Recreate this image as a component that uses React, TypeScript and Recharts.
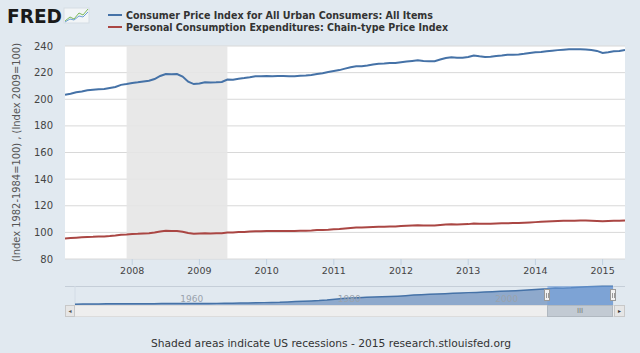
import {
  Area,
  AreaChart,
  CartesianGrid,
  Line,
  LineChart,
  ReferenceArea,
  ReferenceLine,
  XAxis,
  YAxis,
} from "recharts";

// monthly observations, Jan 2007 .. May 2015
const startYear = 2007;
const cpi = [
  203.4, 204.2, 205.3, 205.9, 206.8, 207.2, 207.6, 207.7, 208.5, 209.2, 210.8, 211.4,
  212.2, 212.7, 213.4, 213.9, 215.2, 217.5, 219.0, 218.7, 218.9, 217.0, 213.2, 211.4,
  211.9, 212.7, 212.5, 212.7, 213.0, 214.8, 214.7, 215.4, 215.9, 216.5, 217.2, 217.3,
  217.5, 217.3, 217.4, 217.4, 217.3, 217.2, 217.6, 217.9, 218.3, 219.0, 219.6, 220.5,
  221.2, 221.9, 223.0, 224.1, 224.8, 224.8, 225.4, 226.1, 226.6, 226.8, 227.2, 227.2,
  227.8, 228.3, 228.8, 229.2, 228.7, 228.5, 228.6, 229.9, 231.0, 231.6, 231.2, 231.2,
  231.7, 232.9, 232.3, 231.8, 231.9, 232.4, 232.9, 233.5, 233.5, 233.7, 234.1, 234.7,
  235.3, 235.5, 236.0, 236.5, 236.9, 237.2, 237.5, 237.5, 237.5, 237.4, 237.0, 236.3,
  234.7, 235.3, 236.0, 236.2, 237.0,
];
const pce = [
  95.4, 95.7, 96.0, 96.3, 96.6, 96.7, 96.9, 96.9, 97.2, 97.6, 98.2, 98.4,
  98.7, 98.9, 99.2, 99.4, 99.9, 100.6, 101.2, 101.1, 101.1, 100.5, 99.5, 98.9,
  99.1, 99.3, 99.2, 99.3, 99.4, 99.9, 99.9, 100.2, 100.3, 100.6, 100.8, 100.9,
  101.0, 101.0, 101.1, 101.1, 101.1, 101.1, 101.2, 101.3, 101.4, 101.7, 101.8, 102.0,
  102.3, 102.6, 103.0, 103.3, 103.6, 103.7, 103.9, 104.1, 104.2, 104.3, 104.4, 104.5,
  104.8, 105.0, 105.2, 105.3, 105.2, 105.1, 105.2, 105.6, 105.9, 106.1, 106.0, 106.1,
  106.2, 106.6, 106.5, 106.4, 106.4, 106.6, 106.8, 106.9, 107.0, 107.1, 107.3, 107.5,
  107.7, 107.9, 108.1, 108.3, 108.5, 108.7, 108.8, 108.8, 108.9, 108.9, 108.8, 108.6,
  108.3, 108.5, 108.7, 108.8, 109.0,
];
const yearTicks = [2008, 2009, 2010, 2011, 2012, 2013, 2014, 2015];
const yTicks = [80, 100, 120, 140, 160, 180, 200, 220, 240];
const recession = [2007 + 11 / 12, 2009 + 5 / 12]; // Dec 2007 - Jun 2009

// navigator: annual CPI, 1947 .. 2015
const navStart = 1947;
const navCpi = [
  22.3, 24.0, 23.8, 24.1, 26.0, 26.5, 26.7, 26.9, 26.8, 27.2, 28.1, 28.9, 29.1,
  29.6, 29.9, 30.2, 30.6, 31.0, 31.5, 32.4, 33.4, 34.8, 36.7, 38.8, 40.5, 41.8,
  44.4, 49.3, 53.8, 56.9, 60.6, 65.2, 72.6, 82.4, 90.9, 96.5, 99.6, 103.9, 107.6,
  109.6, 113.6, 118.3, 124.0, 130.7, 136.2, 140.3, 144.5, 148.2, 152.4, 156.9,
  160.5, 163.0, 166.6, 172.2, 177.1, 179.9, 184.0, 188.9, 195.3, 201.6, 207.3,
  215.3, 214.5, 218.1, 224.9, 229.6, 233.0, 236.7, 237.0,
];
const navTicks = [1960, 1980, 2000];

const legend = [
  { name: "Consumer Price Index for All Urban Consumers: All Items", color: "#4572a7", w: 307 },
  { name: "Personal Consumption Expenditures: Chain-type Price Index", color: "#aa4643", w: 322 },
];

const lastT = startYear + (cpi.length - 1) / 12;
const data = cpi.map((v, i) => ({ t: startYear + i / 12, cpi: v, pce: pce[i] }));
const navData = navCpi.map((v, i) => ({
  t: i === navCpi.length - 1 ? lastT : navStart + i,
  v,
}));

const font = "DejaVu Sans, Verdana, sans-serif";
const bg = "#e1e9f0";

function navLabel(text: string) {
  return (props: any) => {
    const vb = props.viewBox;
    return (
      <text x={vb.x + 3} y={vb.y + vb.height - 4} fill="#9aa3ad" fontSize={9} fontFamily={font}>
        {text}
      </text>
    );
  };
}

function YLabel(props: any) {
  const vb = props.viewBox;
  const cy = vb.y + vb.height / 2;
  return (
    <text
      x={16}
      y={cy}
      transform={`rotate(-90 16 ${cy})`}
      textAnchor="middle"
      dominantBaseline="central"
      fill="#555"
      fontSize={10}
      fontFamily={font}
      textLength={219}
      lengthAdjust="spacingAndGlyphs"
    >
      (Index 1982-1984=100) , (Index 2009=100)
    </text>
  );
}

export default function App() {
  return (
    <div style={{ position: "absolute", left: 0, top: 0, width: 640, height: 353, background: bg, overflow: "hidden" }}>
      <svg width={640} height={40} style={{ position: "absolute", left: 0, top: 0 }}>
        <text
          x={7}
          y={23}
          fontFamily="DejaVu Sans Condensed, DejaVu Sans"
          fontWeight="bold"
          fontSize={20}
          fill="#1a1a1a"
          textLength={55}
          lengthAdjust="spacingAndGlyphs"
        >
          FRED
        </text>
        <rect x={64} y={8} width={25} height={15} fill="#f2f5f7" stroke="#d5dde4" />
        <polyline points="65,21 70,17 74,19 79,13 83,15 88,9" fill="none" stroke="#7cba5a" strokeWidth={1} />
        <polyline points="65,22 70,19 74,20 79,16 83,17 88,12" fill="none" stroke="#6c9fd4" strokeWidth={1} />
        {legend.map((l, i) => (
          <g key={l.name}>
            <line x1={108} x2={122} y1={15 + i * 12} y2={15 + i * 12} stroke={l.color} strokeWidth={2} />
            <text
              x={126}
              y={18.5 + i * 12}
              fontFamily="DejaVu Sans Condensed, DejaVu Sans"
              fontWeight="bold"
              fontSize={10.5}
              fill="#333"
              textLength={l.w}
              lengthAdjust="spacingAndGlyphs"
            >
              {l.name}
            </text>
          </g>
        ))}
      </svg>

      <div style={{ position: "absolute", left: 0, top: 0 }}>
        <LineChart width={640} height={290} data={data} margin={{ top: 46, right: 15, left: 0, bottom: 0 }}>
          <CartesianGrid vertical={false} stroke="#d8d8d8" fill="#ffffff" fillOpacity={1} />
          <ReferenceArea x1={recession[0]} x2={recession[1]} fill="#e6e6e6" fillOpacity={0.9} stroke="none" />
          <XAxis
            dataKey="t"
            type="number"
            domain={[startYear, lastT]}
            ticks={yearTicks}
            allowDataOverflow
            height={31}
            axisLine={false}
            tickLine={{ stroke: "#c0d0e0" }}
            tickSize={6}
            tickMargin={2}
            tick={{ fill: "#444", fontSize: 9.5, fontFamily: font }}
          />
          <YAxis
            domain={[80, 240]}
            ticks={yTicks}
            width={65}
            axisLine={false}
            tickLine={false}
            tickSize={0}
            tickMargin={12}
            tick={{ fill: "#444", fontSize: 10, fontFamily: font }}
            label={<YLabel />}
          />
          <Line type="linear" dataKey="cpi" stroke="#4572a7" strokeWidth={2} dot={false} isAnimationActive={false} />
          <Line type="linear" dataKey="pce" stroke="#aa4643" strokeWidth={2} dot={false} isAnimationActive={false} />
        </LineChart>
      </div>

      {/* navigator */}
      <div style={{ position: "absolute", left: 65, top: 286, width: 560, height: 1, background: "#c5ced8" }} />
      <div style={{ position: "absolute", left: 0, top: 284 }}>
        <AreaChart width={640} height={22} data={navData} margin={{ top: 2, right: 27, left: 75, bottom: 0 }}>
          <CartesianGrid horizontal={false} stroke="#d3dce6" />
          <XAxis
            dataKey="t"
            type="number"
            domain={[navStart, lastT]}
            ticks={navTicks}
            height={0}
            axisLine={false}
            tickLine={false}
            tick={false}
          />
          <YAxis hide domain={[0, 240]} />
          <Area
            type="linear"
            dataKey="v"
            stroke="#4572a7"
            strokeWidth={1.5}
            fill="#8ea9cc"
            fillOpacity={1}
            isAnimationActive={false}
          />
          {navTicks.map((y) => (
            <ReferenceLine key={y} x={y} stroke="none" label={navLabel(String(y))} />
          ))}
          <ReferenceArea x1={startYear} x2={lastT} fill="#6f9fdc" fillOpacity={0.55} stroke="none" />
        </AreaChart>
      </div>
      {/* handles */}
      {[544, 610].map((x) => (
        <div
          key={x}
          style={{
            position: "absolute",
            left: x,
            top: 289,
            width: 6,
            height: 12,
            background: "#f2f2f2",
            border: "1px solid #999",
            boxSizing: "border-box",
          }}
        >
          <div style={{ position: "absolute", left: 1, top: 3, width: 1, height: 5, background: "#999" }} />
          <div style={{ position: "absolute", left: 3, top: 3, width: 1, height: 5, background: "#999" }} />
        </div>
      ))}
      {/* scrollbar */}
      <div style={{ position: "absolute", left: 65, top: 305, width: 560, height: 12, background: "#eeeeee", borderTop: "1px solid #dcdcdc", borderBottom: "1px solid #dcdcdc", boxSizing: "border-box" }} />
      <div style={{ position: "absolute", left: 65, top: 305, width: 10, height: 12, background: "#e6e6e6", border: "1px solid #c8c8c8", boxSizing: "border-box", fontSize: 6, lineHeight: "10px", textAlign: "center", color: "#555", fontFamily: font }}>◂</div>
      <div style={{ position: "absolute", left: 547, top: 305, width: 66, height: 12, background: "#c2cad3", border: "1px solid #b0b8c0", boxSizing: "border-box", fontSize: 7, lineHeight: "10px", textAlign: "center", color: "#777", fontFamily: font }}>III</div>
      <div style={{ position: "absolute", left: 614, top: 305, width: 11, height: 12, background: "#e6e6e6", border: "1px solid #c8c8c8", boxSizing: "border-box", fontSize: 6, lineHeight: "10px", textAlign: "center", color: "#333", fontFamily: font }}>▸</div>

      <svg width={640} height={20} style={{ position: "absolute", left: 0, top: 333 }}>
        <text
          x={331}
          y={14}
          textAnchor="middle"
          fontFamily={font}
          fontSize={11}
          fill="#333"
          textLength={360}
          lengthAdjust="spacingAndGlyphs"
        >
          Shaded areas indicate US recessions - 2015 research.stlouisfed.org
        </text>
      </svg>
    </div>
  );
}
